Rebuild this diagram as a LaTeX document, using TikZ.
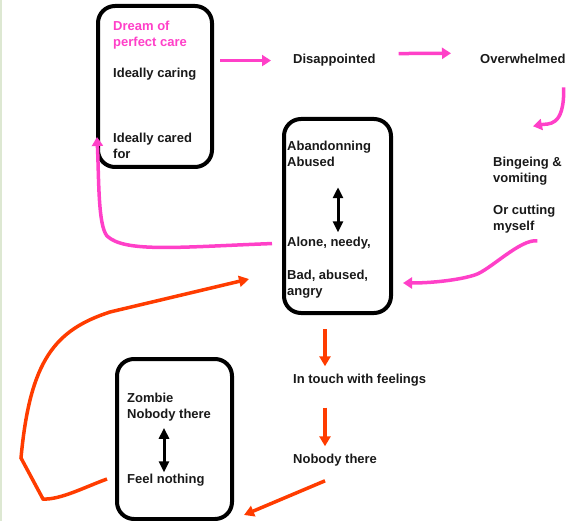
\documentclass[tikz,border=0pt]{standalone}
\usepackage{fontspec}
\setmainfont{Liberation Sans}
\usepackage{tikz}
\usetikzlibrary{arrows.meta,calc}
\definecolor{dreampink}{HTML}{FF40C8}
\definecolor{loopred}{HTML}{FF3C00}
\definecolor{edgegreen}{HTML}{DDE8D2}

\begin{document}
\begin{tikzpicture}[x=1pt, y=-1pt,
  box/.style={draw, line width=4pt, rounded corners=17pt},
  lbl/.style={anchor=north west, inner sep=0pt, align=left, text=black!90, font=\fontsize{13}{16}\selectfont\bfseries},
  pinkarr/.style={draw=dreampink, line width=3.5pt, -{Triangle[length=9pt,width=11pt]}},
  redarr/.style={draw=loopred, line width=3.5pt, -{Triangle[length=10pt,width=11pt]}},
  dblarr/.style={line width=3pt, {Triangle[length=11pt,width=10pt]}-{Triangle[length=11pt,width=10pt]}}]
  \useasboundingbox (0,0) rectangle (567,521);
  \fill[edgegreen] (0,0) rectangle (2,521);

  \node[box, minimum width=114pt, minimum height=161pt] (ideal) at (155,86.5) {};
  \node[box, minimum width=107pt, minimum height=194pt] (victim) at (337.5,216) {};
  \node[box, minimum width=115pt, minimum height=160pt] (numb) at (174.5,439) {};

  \node[lbl, text=dreampink] (dream) at (113,21.3) {Dream of\\perfect care};
  \node[lbl] (caring) at (113,68.3) {Ideally caring};
  \node[lbl] (cared) at (113,133.3) {Ideally cared\\for};

  \node[lbl] (disap) at (293,54.3) {Disappointed};
  \node[lbl] (overw) at (480,54.3) {Overwhelmed};
  \node[lbl] (binge) at (493,157.3) {Bingeing \&\\vomiting};
  \node[lbl] (cut) at (493,205.3) {Or cutting\\myself};

  \node[lbl] (aband) at (287,141.3) {Abandonning\\Abused};
  \node[lbl] (alone) at (287,237.3) {Alone, needy,};
  \node[lbl] (bad) at (287,270.3) {Bad, abused,\\angry};

  \node[lbl] (touch) at (293,374.3) {In touch with feelings};
  \node[lbl] (nobody) at (293,454.3) {Nobody there};

  \node[lbl] (zombie) at (127,393.3) {Zombie\\Nobody there};
  \node[lbl] (feel) at (127,474.3) {Feel nothing};

  \draw[pinkarr] ($(ideal.east |- disap.west)+(6,0)$) -- ($(disap.west)+(-22,0)$);
  \draw[pinkarr] ($(disap.east)+(23,-7)$) -- ($(overw.west)+(-29,-6)$);
  \draw[pinkarr] ($(overw.east)+(-2,28)$) .. controls +(1,41) and +(15,-3) .. ($(binge.north west)+(40,-31)$);
  \draw[pinkarr] ($(cut.south)+(13,7)$) .. controls +(-17,-2) and +(15,-5) .. ++(-62,34)
    .. controls +(-15,5) and +(30,0) .. ($(victim.south east)+(10,-32)$);
  \draw[pinkarr] ($(alone.west)+(-15,0)$) .. controls (180,247) and (125,253) .. (107,236)
    .. controls (98,225) and (99,180) .. ($(ideal.south west)+(1,-32)$);

  \draw[dblarr] ($(aband.south west)+(51,20)$) -- ($(alone.north west)+(51,-5)$);
  \draw[dblarr] ($(zombie.south west)+(37,6)$) -- ($(feel.north west)+(37,-2)$);

  \draw[redarr] ($(victim.south)+(-12.5,14)$) -- ($(touch.north west)+(32,-8)$);
  \draw[redarr] ($(touch.south west)+(32,20.7)$) -- ($(nobody.north west)+(32,-8)$);
  \draw[redarr] ($(nobody.south west)+(32,14)$) -- ($(numb.south east)+(10,-6)$);
  \draw[redarr] ($(numb.west)+(-8,40)$) .. controls (85,487) and (60,500) .. (43,499) -- (21,458)
    .. controls (30,360) and (55,330) .. (110,312) -- ($(victim.south west)+(-33,-36)$);
\end{tikzpicture}
\end{document}
